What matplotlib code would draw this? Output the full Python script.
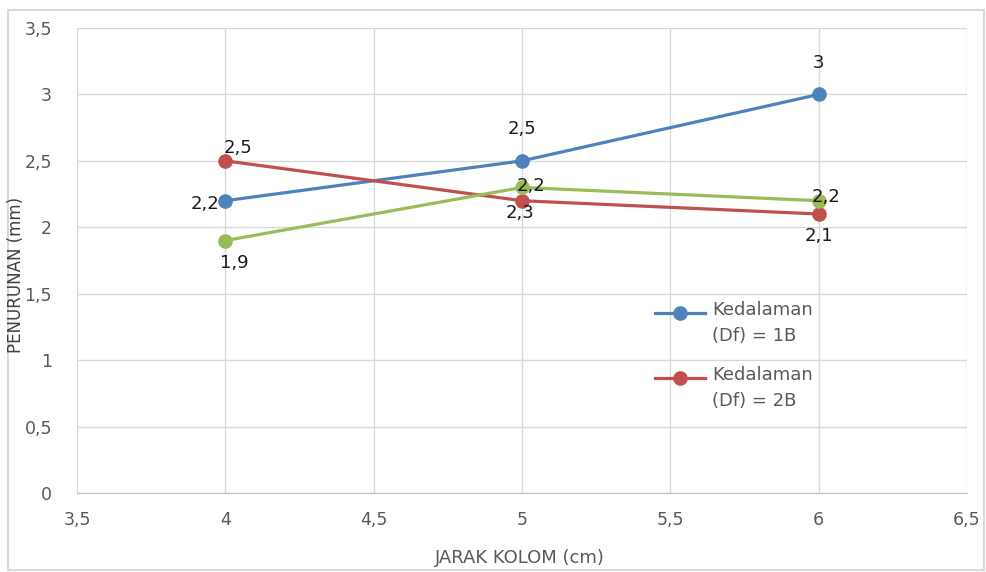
import matplotlib.pyplot as plt
from matplotlib.ticker import FuncFormatter, MultipleLocator
from matplotlib.patches import Rectangle
from matplotlib.lines import Line2D

# data
jarak = [4, 5, 6]
df_1b = [2.2, 2.5, 3.0]
df_2b = [2.5, 2.2, 2.1]
df_3b = [1.9, 2.3, 2.2]
labels_1b = ['2,2', '2,5', '3']
labels_2b = ['2,5', '2,3', '2,1']
labels_3b = ['1,9', '2,2', '2,2']
legend_names = ['Kedalaman\n(Df) = 1B', 'Kedalaman\n(Df) = 2B']

BLUE = '#4F81BD'
RED = '#C0504D'
GREEN = '#9BBB59'
GREY = '#595959'

plt.rcParams['font.family'] = ['DejaVu Sans']

W, H = 986, 572


def comma(v, pos):
    return f'{v:g}'.replace('.', ',')


def fx(px):
    return px / W


def fy(py):
    return 1 - py / H


fig = plt.figure(figsize=(9.86, 5.72), dpi=100)
fig.patches.append(Rectangle((fx(8), fy(570)), 0.99, 560 / H,
                             transform=fig.transFigure, fill=False,
                             edgecolor='#d9d9d9', lw=1.5))
ax = fig.add_axes([fx(77), fy(493), 890 / W, 465 / H])

ax.set_xlim(3.5, 6.5)
ax.set_ylim(0, 3.5)
ax.xaxis.set_major_locator(MultipleLocator(0.5))
ax.yaxis.set_major_locator(MultipleLocator(0.5))
ax.xaxis.set_major_formatter(FuncFormatter(comma))
ax.yaxis.set_major_formatter(FuncFormatter(comma))
ax.grid(True, color='#d9d9d9', lw=1)
ax.set_axisbelow(True)
for s in ['top', 'right', 'left']:
    ax.spines[s].set_visible(False)
ax.spines['bottom'].set_color('#bfbfbf')
ax.tick_params(length=0, colors=GREY, labelsize=12.5)
ax.tick_params(axis='y', pad=18)
ax.tick_params(axis='x', pad=13)

ax.plot(jarak, df_1b, color=BLUE, lw=2.3, marker='o', ms=9.5)
ax.plot(jarak, df_2b, color=RED, lw=2.3, marker='o', ms=9.5)
ax.plot(jarak, df_3b, color=GREEN, lw=2.3, marker='o', ms=9.5)

# label offsets in pixels (x, y, ha)
off_1b = [(-6, -3, 'right'), (0, 32, 'center'), (0, 31, 'center')]
off_2b = [(13, 13, 'center'), (-2, -12, 'center'), (0, -22, 'center')]
off_3b = [(9, -22, 'center'), (9, 1, 'center'), (7, 4, 'center')]
for ys, labs, offs in [(df_1b, labels_1b, off_1b), (df_2b, labels_2b, off_2b),
                       (df_3b, labels_3b, off_3b)]:
    for x, y, t, (dx, dy, ha) in zip(jarak, ys, labs, offs):
        ax.annotate(t, (x, y), xytext=(dx, dy), textcoords='offset pixels',
                    ha=ha, va='center', fontsize=13, color='#1a1a1a')

# legend drawn by hand so the marker sits on the first text line
for i, (name, col) in enumerate(zip(legend_names, [BLUE, RED])):
    y0 = 313 + i * 65
    fig.add_artist(Line2D([fx(655), fx(680), fx(705)], [fy(y0)] * 3,
                          transform=fig.transFigure, color=col, lw=2.3,
                          marker='o', ms=9.5, markevery=[1]))
    fig.text(fx(712), fy(y0 - 12), name, ha='left', va='top', fontsize=13,
             color=GREY, linespacing=1.6)

fig.text(fx(16), fy(275), 'PENURUNAN (mm)', rotation=90,
         ha='center', va='center', fontsize=12, color='#404040')
fig.text(fx(520), fy(558), 'JARAK KOLOM (cm)', ha='center',
         va='center', fontsize=13, color=GREY)

fig.savefig('out.png', dpi=100)
